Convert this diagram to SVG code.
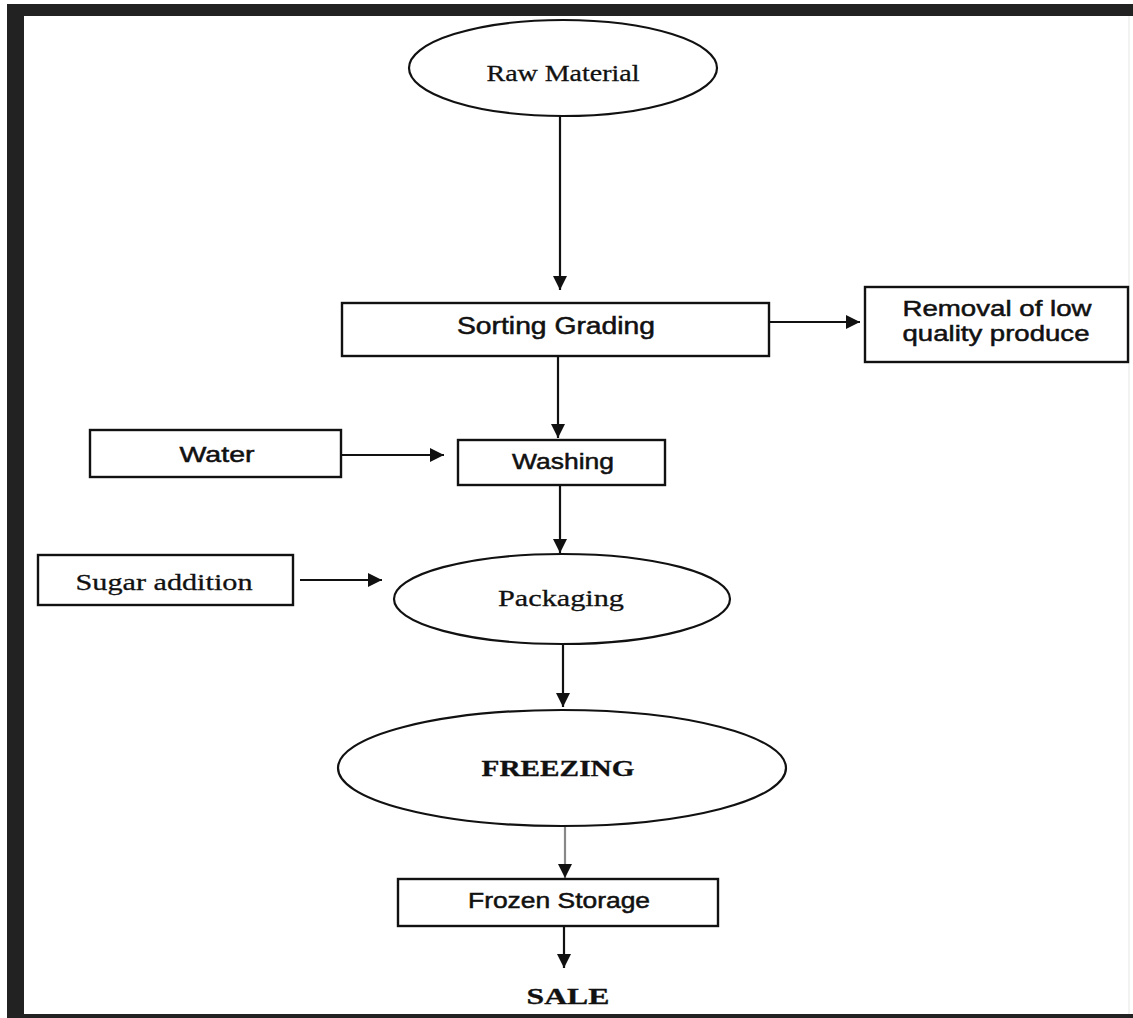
<svg xmlns="http://www.w3.org/2000/svg" width="1133" height="1018" viewBox="0 0 1133 1018">
<style>
.box{fill:#fff;stroke:#111;stroke-width:2.4}
.ell{fill:#fff;stroke:#111;stroke-width:2.2}
.ser{font-family:"Liberation Serif","Times New Roman",serif;fill:#111;text-anchor:middle;stroke:#111;stroke-width:0.3}
.san{font-family:"Liberation Sans",Arial,sans-serif;fill:#111;text-anchor:middle;stroke:#111;stroke-width:0.5}
.con{stroke:#111;stroke-width:2.2;fill:none}
</style>
<defs>
<marker id="ah" viewBox="0 0 10 10" refX="10" refY="5" markerWidth="6.5" markerHeight="6.5" markerUnits="strokeWidth" orient="auto">
<path d="M0,0 L10,5 L0,10 z" fill="#111"/>
</marker>
</defs>
<rect x="0" y="0" width="1133" height="1018" fill="#fff"/>
<g id="frame">
<rect x="7" y="4" width="1126" height="12" fill="#222"/>
<rect x="7" y="4" width="17" height="1014" fill="#222"/>
<rect x="7" y="1014" width="1126" height="4" fill="#222"/>
<line x1="1129" y1="16" x2="1129" y2="1014" stroke="#f2f2f2" stroke-width="2"/>
</g>
<g id="connectors">
<line class="con" x1="560" y1="116" x2="560" y2="290" marker-end="url(#ah)"/>
<line class="con" x1="769" y1="322" x2="860" y2="322" marker-end="url(#ah)"/>
<line class="con" x1="558" y1="356" x2="558" y2="438" marker-end="url(#ah)"/>
<line class="con" x1="341" y1="455" x2="444" y2="455" marker-end="url(#ah)"/>
<line class="con" x1="560" y1="485" x2="560" y2="553" marker-end="url(#ah)"/>
<line class="con" x1="300" y1="580" x2="382" y2="580" marker-end="url(#ah)"/>
<line class="con" x1="563" y1="644" x2="563" y2="707" marker-end="url(#ah)"/>
<line x1="565" y1="827" x2="565" y2="878" stroke="#888" stroke-width="2.2" marker-end="url(#ah)"/>
<line class="con" x1="564" y1="927" x2="564" y2="968" marker-end="url(#ah)"/>
</g>
<g id="raw-material">
<ellipse class="ell" cx="563" cy="68" rx="154" ry="48"/>
<text class="ser" x="563" y="81" font-size="24" textLength="153" lengthAdjust="spacingAndGlyphs">Raw Material</text>
</g>
<g id="sorting-grading">
<rect class="box" x="342" y="303" width="427" height="53"/>
<text class="san" x="556" y="334" font-size="23" textLength="198" lengthAdjust="spacingAndGlyphs">Sorting Grading</text>
</g>
<g id="removal">
<rect class="box" x="865" y="287" width="263" height="75"/>
<text class="san" x="997" y="316" font-size="22" textLength="189" lengthAdjust="spacingAndGlyphs">Removal of low</text>
<text class="san" x="996" y="341" font-size="22" textLength="187" lengthAdjust="spacingAndGlyphs">quality produce</text>
</g>
<g id="water">
<rect class="box" x="90" y="430" width="251" height="47"/>
<text class="san" x="217" y="462" font-size="22" textLength="75" lengthAdjust="spacingAndGlyphs">Water</text>
</g>
<g id="washing">
<rect class="box" x="458" y="440" width="207" height="45"/>
<text class="san" x="563" y="469" font-size="22" textLength="102" lengthAdjust="spacingAndGlyphs">Washing</text>
</g>
<g id="sugar-addition">
<rect class="box" x="38" y="555" width="255" height="50"/>
<text class="ser" x="164" y="590" font-size="24" textLength="177" lengthAdjust="spacingAndGlyphs">Sugar addition</text>
</g>
<g id="packaging">
<ellipse class="ell" cx="562" cy="599" rx="168" ry="45"/>
<text class="ser" x="561" y="606" font-size="24" textLength="126" lengthAdjust="spacingAndGlyphs">Packaging</text>
</g>
<g id="freezing">
<ellipse class="ell" cx="562" cy="768" rx="224" ry="58"/>
<text class="ser" x="558" y="776" font-size="23" font-weight="bold" textLength="153" lengthAdjust="spacingAndGlyphs">FREEZING</text>
</g>
<g id="frozen-storage">
<rect class="box" x="398" y="879" width="320" height="47"/>
<text class="san" x="559" y="908" font-size="22" textLength="182" lengthAdjust="spacingAndGlyphs">Frozen Storage</text>
</g>
<g id="sale">
<text class="ser" x="568" y="1004" font-size="23" font-weight="bold" textLength="83" lengthAdjust="spacingAndGlyphs">SALE</text>
</g>
</svg>
